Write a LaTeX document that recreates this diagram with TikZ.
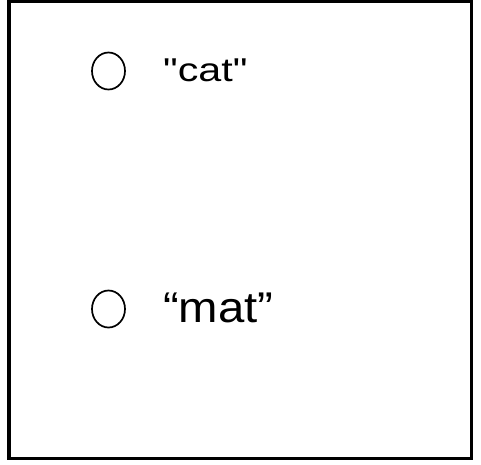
\documentclass[tikz,border=0pt]{standalone}
\usepackage{fontspec}
\setmainfont{Liberation Sans}
\newfontfamily\rawfont{Liberation Sans}
\usetikzlibrary{shapes.geometric}
\begin{document}
\begin{tikzpicture}[x=1pt,y=-1pt,
  frameline/.style={line width=3.5pt},
  ring/.style={draw, ellipse, line width=1.7pt, minimum width=33pt, minimum height=37pt, inner sep=0pt},
  wordA/.style={anchor=base west, inner sep=0pt, font=\rawfont\fontsize{33}{33}\selectfont},
  wordB/.style={anchor=base west, inner sep=0pt, font=\fontsize{43}{43}\selectfont}]
\useasboundingbox (0,0) rectangle (481,464);
\fill[white] (0,0) rectangle (481,464);
\coordinate (tl) at (7.2,1.7);
\coordinate (tr) at (473.2,1.7);
\coordinate (bl) at (7.2,458.3);
\coordinate (br) at (473.2,458.3);
\draw[frameline] (9,0) -- (9,460);
\draw[frameline] (471.5,0) -- (471.5,460);
\draw[frameline] (tl) -- (tr);
\draw[frameline] (bl) -- (br);
\node[ring] (c1) at (108.5,71) {};
\node[ring] (c2) at (108.5,309) {};
\node[wordA] (t1) at (163,81) {\scalebox{1.25}[1]{"cat"}};
\node[wordB] (t2) at (163,322) {\scalebox{1.1}[1]{“mat”}};
\end{tikzpicture}
\end{document}
